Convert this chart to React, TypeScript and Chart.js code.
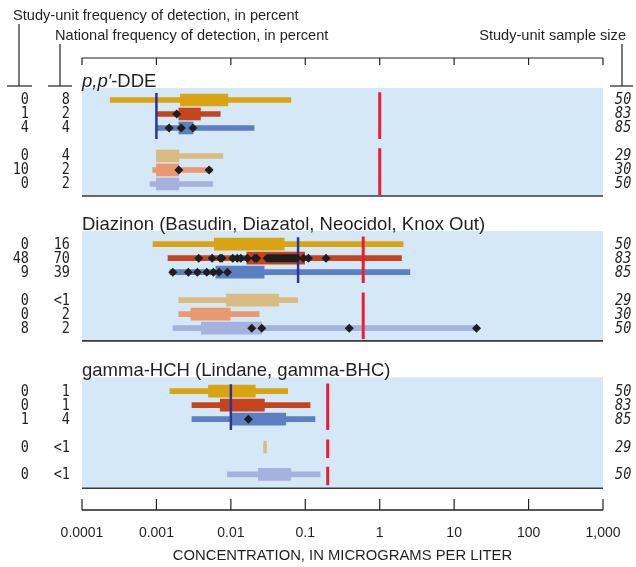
import React, { useEffect, useRef } from 'react';
import { Chart, registerables } from 'chart.js';

Chart.register(...registerables);

// ---------------- data ----------------
const PANEL_TITLES = ['p,p′-DDE', 'Diazinon (Basudin, Diazatol, Neocidol, Knox Out)', 'gamma-HCH (Lindane, gamma-BHC)'];
const TICK_VALUES = [0.0001, 0.001, 0.01, 0.1, 1, 10, 100, 1000];
const TICK_LABELS = ['0.0001', '0.001', '0.01', '0.1', '1', '10', '100', '1,000'];
const AXIS_TITLE = 'CONCENTRATION, IN MICROGRAMS PER LITER';
const HEADER_STUDY = 'Study-unit frequency of detection, in percent';
const HEADER_NATIONAL = 'National frequency of detection, in percent';
const HEADER_SAMPLE = 'Study-unit sample size';

// p,p'-DDE
const ddeStudyFreq = ['0', '1', '4', '0', '10', '0'];
const ddeNationalFreq = ['8', '2', '4', '4', '2', '2'];
const ddeSampleSize = ['50', '83', '85', '29', '30', '50'];
const ddeMin = [0.00024, 0.001, 0.001, 0.001, 0.00089, 0.00082];
const ddeMax = [0.064, 0.0072, 0.0205, 0.0078, 0.0056, 0.0057];
const ddeBoxLow = [0.0021, 0.002, 0.002, 0.001, 0.001, 0.001];
const ddeBoxHigh = [0.0091, 0.0039, 0.0031, 0.002, 0.002, 0.002];
const ddeDetections = [[], [0.00187], [0.00148, 0.00216, 0.0031], [], [0.002, 0.0051], []];
const ddeDrinkingWater = 1;
const ddeAquaticLife = 0.001;

// Diazinon
const dzStudyFreq = ['0', '48', '9', '0', '0', '8'];
const dzNationalFreq = ['16', '70', '39', '<1', '2', '2'];
const dzSampleSize = ['50', '83', '85', '29', '30', '50'];
const dzMin = [0.0009, 0.00143, 0.00152, 0.002, 0.002, 0.00167];
const dzMax = [2.06, 1.96, 2.54, 0.079, 0.024, 20];
const dzBoxLow = [0.006, 0.0164, 0.0063, 0.0087, 0.0029, 0.004];
const dzBoxHigh = [0.052, 0.098, 0.028, 0.044, 0.0098, 0.026];
const dzDetections = [
  [],
  [0.0037, 0.0056, 0.0072, 0.0076, 0.0106, 0.0122, 0.0136, 0.0167, 0.021, 0.0223, 0.0307, 0.0326, 0.0347, 0.0369,
    0.0393, 0.0418, 0.0444, 0.0473, 0.0503, 0.0535, 0.0569, 0.0606, 0.0644, 0.0686, 0.0729, 0.0776, 0.094, 0.11, 0.19],
  [0.00166, 0.00268, 0.00355, 0.00474, 0.00582, 0.00694, 0.009],
  [],
  [],
  [0.0191, 0.026, 0.39, 20],
];
const dzDrinkingWater = 0.6;
const dzAquaticLife = 0.08;

// gamma-HCH
const ghStudyFreq = ['0', '0', '1', '0', '0'];
const ghNationalFreq = ['1', '1', '4', '<1', '<1'];
const ghSampleSize = ['50', '83', '85', '29', '50'];
const ghMin = [0.00152, 0.003, 0.003, 0.0276, 0.009];
const ghMax = [0.058, 0.116, 0.135, 0.03, 0.158];
const ghBoxLow = [0.005, 0.0072, 0.0103, 0.0276, 0.0234];
const ghBoxHigh = [0.0213, 0.0282, 0.0547, 0.03, 0.0638];
const ghDetections = [[], [], [0.0172], [], []];
const ghDrinkingWater = 0.2;
const ghAquaticLife = 0.01;

const PANELS = [
  { study: ddeStudyFreq, national: ddeNationalFreq, sample: ddeSampleSize, min: ddeMin, max: ddeMax, boxLow: ddeBoxLow, boxHigh: ddeBoxHigh, det: ddeDetections, drinking: ddeDrinkingWater, aquatic: ddeAquaticLife },
  { study: dzStudyFreq, national: dzNationalFreq, sample: dzSampleSize, min: dzMin, max: dzMax, boxLow: dzBoxLow, boxHigh: dzBoxHigh, det: dzDetections, drinking: dzDrinkingWater, aquatic: dzAquaticLife },
  { study: ghStudyFreq, national: ghNationalFreq, sample: ghSampleSize, min: ghMin, max: ghMax, boxLow: ghBoxLow, boxHigh: ghBoxHigh, det: ghDetections, drinking: ghDrinkingWater, aquatic: ghAquaticLife },
];

// ---------------- layout & style ----------------
const W = 636;
const H = 567;
const Y_MAX = 32.29; // vertical slots (1 slot = one row pitch)
const PANEL_LAYOUT = [
  { rows: [3, 4, 5, 7, 8, 9], groups: [[0, 1, 2], [3, 4, 5]], bg: [2.14, 9.86], colors: [0, 1, 2, 3, 4, 5] },
  { rows: [13.3, 14.3, 15.3, 17.3, 18.3, 19.3], groups: [[0, 1, 2], [3, 4, 5]], bg: [12.36, 20.21], colors: [0, 1, 2, 3, 4, 5] },
  { rows: [23.8, 24.8, 25.8, 27.8, 29.75], groups: [[0, 1, 2], [3], [4]], bg: [22.81, 30.74], colors: [0, 1, 2, 3, 5] },
];
const ROW_COLORS = ['#D9A412', '#C5441D', '#5B7FC1', '#DABC83', '#EA9870', '#A4B2DD'];
const PANEL_BG = '#D5E8F7';
const DRINK_COLOR = '#EE1C2E';
const AQUATIC_COLOR = '#2B3595';
const INK = '#231F20';
const SANS = '"Liberation Sans", Arial, sans-serif';
const MONO = '"DejaVu Sans Mono", monospace';

function lineDs(value: number, y0: number, y1: number, color: string, width: number) {
  return {
    type: 'line' as const,
    data: [{ x: value, y: y0 }, { x: value, y: y1 }],
    borderColor: color,
    borderWidth: width,
    pointRadius: 0,
    fill: false,
    order: 2,
  };
}

function buildDatasets() {
  const whiskers: any[] = [];
  const boxes: any[] = [];
  const colors: string[] = [];
  const dots: any[] = [];
  const lines: any[] = [];
  PANELS.forEach((pd, p) => {
    const lay = PANEL_LAYOUT[p];
    lay.rows.forEach((slot, r) => {
      colors.push(ROW_COLORS[lay.colors[r]]);
      whiskers.push({ x: [pd.min[r], pd.max[r]], y: slot });
      boxes.push({ x: [pd.boxLow[r], pd.boxHigh[r]], y: slot });
      pd.det[r].forEach((v) => dots.push({ x: v, y: slot }));
    });
    const g0 = lay.groups[0];
    lines.push(lineDs(pd.aquatic, lay.rows[g0[0]] - 0.5, lay.rows[g0[g0.length - 1]] + 0.78, AQUATIC_COLOR, 2.5));
    lay.groups.forEach((g) =>
      lines.push(lineDs(pd.drinking, lay.rows[g[0]] - 0.55, Math.min(lay.rows[g[g.length - 1]] + 0.78, lay.bg[1]), DRINK_COLOR, 3))
    );
  });
  return [
    {
      type: 'bar' as const, indexAxis: 'y' as const, data: whiskers, backgroundColor: colors,
      borderWidth: 0, grouped: false, barThickness: 5, maxBarThickness: 5, order: 4,
    },
    {
      type: 'bar' as const, indexAxis: 'y' as const, data: boxes, backgroundColor: colors,
      borderWidth: 0, grouped: false, barThickness: 12, maxBarThickness: 12, order: 3,
    },
    ...lines,
    {
      type: 'scatter' as const, data: dots, pointStyle: 'rectRot', pointRadius: 4.5,
      pointBackgroundColor: '#1E1E1E', pointBorderWidth: 0, showLine: false, order: 1,
    },
  ];
}

function narrowText(ctx: CanvasRenderingContext2D, text: string, x: number, y: number, align: CanvasTextAlign, font: string, sx: number) {
  ctx.save();
  ctx.font = font;
  ctx.textAlign = align;
  ctx.textBaseline = 'middle';
  ctx.translate(x, y);
  ctx.scale(sx, 1);
  ctx.fillText(text, 0, 0);
  ctx.restore();
}

function seg(ctx: CanvasRenderingContext2D, x0: number, y0: number, x1: number, y1: number) {
  ctx.beginPath();
  ctx.moveTo(x0, y0);
  ctx.lineTo(x1, y1);
  ctx.stroke();
}

const figurePlugin = {
  id: 'figure',
  beforeDatasetsDraw(chart: any) {
    const { ctx, chartArea, scales } = chart;
    const y = scales.y;
    ctx.save();
    PANEL_LAYOUT.forEach((lay) => {
      const t = y.getPixelForValue(lay.bg[0]);
      const b = y.getPixelForValue(lay.bg[1]);
      ctx.fillStyle = PANEL_BG;
      ctx.fillRect(chartArea.left, t, chartArea.right - chartArea.left, b - t);
    });
    ctx.restore();
  },
  afterDraw(chart: any) {
    const { ctx, chartArea, scales } = chart;
    const x = scales.x;
    const y = scales.y;
    ctx.save();
    ctx.fillStyle = INK;
    ctx.strokeStyle = INK;

    // panel bottom rules, titles, row labels
    PANEL_LAYOUT.forEach((lay, p) => {
      const pd = PANELS[p];
      const t = y.getPixelForValue(lay.bg[0]);
      const b = y.getPixelForValue(lay.bg[1]);
      ctx.strokeStyle = '#3A3A3A';
      ctx.lineWidth = 1.6;
      seg(ctx, chartArea.left, b, chartArea.right, b);

      ctx.fillStyle = INK;
      ctx.textBaseline = 'alphabetic';
      ctx.textAlign = 'left';
      if (p === 0) {
        const italicPart = PANEL_TITLES[0].slice(0, 4);
        const rest = PANEL_TITLES[0].slice(4);
        ctx.font = `italic 18.5px ${SANS}`;
        ctx.fillText(italicPart, chartArea.left, t - 1);
        const w = ctx.measureText(italicPart).width;
        ctx.font = `18.5px ${SANS}`;
        ctx.fillText(rest, chartArea.left + w, t - 1);
      } else {
        ctx.font = `18.5px ${SANS}`;
        ctx.fillText(PANEL_TITLES[p], chartArea.left, t - 1);
      }

      lay.rows.forEach((slot, r) => {
        const py = y.getPixelForValue(slot) + 0.5;
        narrowText(ctx, pd.study[r], 29, py, 'right', `15px ${MONO}`, 0.9);
        narrowText(ctx, pd.national[r], 70, py, 'right', `15px ${MONO}`, 0.9);
        narrowText(ctx, pd.sample[r], 615, py, 'left', `italic 15px ${MONO}`, 0.9);
      });
    });

    // top and bottom axis rules with inward ticks
    ctx.strokeStyle = INK;
    ctx.lineWidth = 1.2;
    seg(ctx, chartArea.left, chartArea.top, chartArea.right, chartArea.top);
    ctx.lineWidth = 1.6;
    seg(ctx, chartArea.left, chartArea.bottom, chartArea.right, chartArea.bottom);
    ctx.lineWidth = 1.2;
    TICK_VALUES.forEach((v) => {
      const px = x.getPixelForValue(v);
      seg(ctx, px, chartArea.top, px, chartArea.top + 7);
      seg(ctx, px, chartArea.bottom - 11, px, chartArea.bottom);
    });

    // header texts
    ctx.fillStyle = INK;
    ctx.font = `14.6px ${SANS}`;
    ctx.textBaseline = 'alphabetic';
    ctx.textAlign = 'left';
    ctx.fillText(HEADER_STUDY, 13, 20);
    ctx.fillText(HEADER_NATIONAL, 55, 40);
    ctx.textAlign = 'right';
    ctx.fillText(HEADER_SAMPLE, 626, 40);

    // header brackets
    ctx.lineWidth = 1.2;
    seg(ctx, 19, 24, 19, 86);
    seg(ctx, 7, 86, 32, 86);
    seg(ctx, 60, 44, 60, 86);
    seg(ctx, 48, 86, 72, 86);
    seg(ctx, 622, 44, 622, 86);
    seg(ctx, 610, 86, 633, 86);
    ctx.restore();
  },
};

export default function App() {
  const ref = useRef<HTMLCanvasElement>(null);
  useEffect(() => {
    const chart = new Chart(ref.current as HTMLCanvasElement, {
      type: 'bar',
      data: { datasets: buildDatasets() as any },
      options: {
        responsive: false,
        animation: false,
        devicePixelRatio: 1,
        layout: { padding: { left: 82, right: 33, top: 58, bottom: 0 } },
        plugins: { legend: { display: false }, tooltip: { enabled: false } },
        scales: {
          x: {
            type: 'logarithmic',
            position: 'bottom',
            min: 0.0001,
            max: 1000,
            offset: false,
            afterBuildTicks: (s: any) => {
              s.ticks = TICK_VALUES.map((v) => ({ value: v }));
            },
            afterFit: (s: any) => {
              s.height = 57;
              s.paddingLeft = 0;
              s.paddingRight = 0;
            },
            grid: { display: false, drawTicks: false },
            border: { display: false },
            ticks: {
              autoSkip: false,
              maxRotation: 0,
              padding: 15,
              color: INK,
              font: { family: SANS, size: 14 },
              callback: (_v: any, i: number) => TICK_LABELS[i],
            },
            title: {
              display: true,
              text: AXIS_TITLE,
              color: INK,
              font: { family: SANS, size: 14.8 },
              padding: { top: 0, bottom: 2 },
            },
          },
          y: { type: 'linear', min: 0, max: Y_MAX, reverse: true, display: false, offset: false },
        },
      } as any,
      plugins: [figurePlugin],
    });
    return () => chart.destroy();
  }, []);
  return (
    <div style={{ position: 'absolute', left: 0, top: 0, width: W, height: H, background: '#fff' }}>
      <canvas ref={ref} width={W} height={H} style={{ display: 'block' }} />
    </div>
  );
}
